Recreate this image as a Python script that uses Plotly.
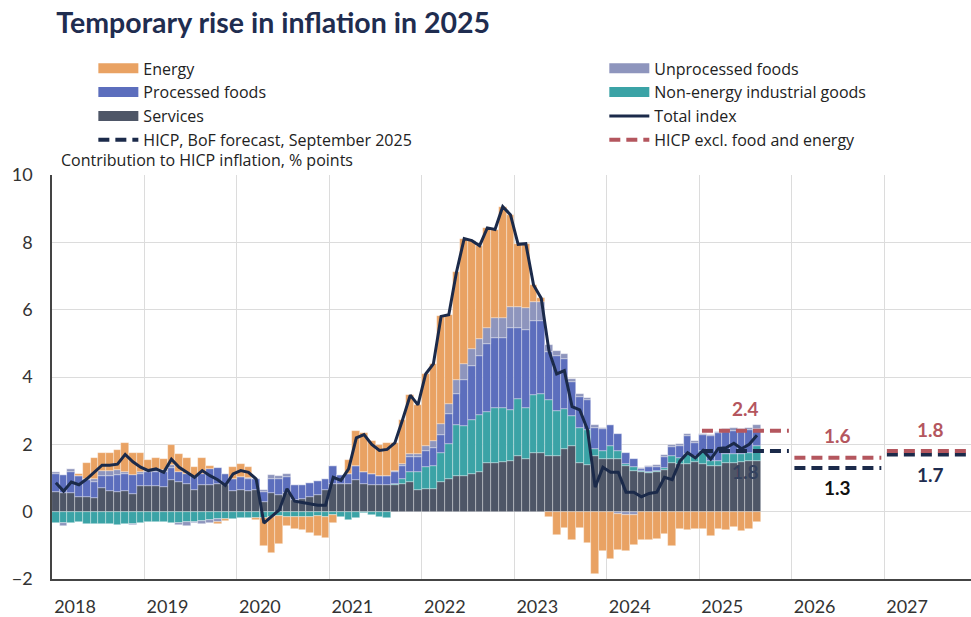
"""HICP inflation contributions with BoF forecast (Sept 2025)."""

import pandas as pd
import plotly.graph_objects as go

FONT = "Lato, 'Open Sans', sans-serif"
FONT_TXT = "'Open Sans', Lato, sans-serif"
C_ENERGY = "#E9A263"
C_UNPROC = "#8E95BD"
C_PROC = "#5C6EBD"
C_NEIG = "#3BA3A6"
C_SERV = "#4E5667"
C_TOTAL = "#1B2A4A"
C_CORE = "#B4565E"
C_GRID = "#DCDCDC"

months = pd.period_range("2018-01", "2025-08", freq="M")

services = [
    0.58, 0.55, 0.54, 0.44, 0.44, 0.40, 0.70, 0.60, 0.58, 0.60, 0.53, 0.75,
    0.75, 0.75, 0.73, 0.93, 0.88, 0.83, 0.63, 0.78, 0.80, 0.83, 0.78, 0.60,
    0.63, 0.60, 0.63, 0.29, 0.54, 0.49, 0.54, 0.34, 0.39, 0.44, 0.50, 0.63,
    0.83, 0.83, 0.83, 0.93, 0.83, 0.78, 0.78, 0.78, 0.78, 0.83, 0.88, 0.63,
    0.68, 0.68, 0.88, 0.97, 1.07, 1.07, 1.12, 1.17, 1.46, 1.46, 1.48, 1.51,
    1.66, 1.56, 1.75, 1.75, 1.66, 1.66, 1.85, 1.95, 1.46, 1.38, 1.64, 1.56,
    1.56, 1.56, 1.36, 1.22, 1.17, 1.15, 1.17, 1.25, 1.46, 1.41, 1.41, 1.48,
    1.41, 1.36, 1.36, 1.46, 1.46, 1.48, 1.50, 1.50,
]
non_energy = [
    -0.33, -0.35, -0.33, -0.32, -0.36, -0.36, -0.38, -0.38, -0.40, -0.37, -0.36, -0.35,
    -0.30, -0.30, -0.32, -0.33, -0.33, -0.32, -0.30, -0.28, -0.25, -0.22, -0.22, -0.22,
    -0.20, -0.20, -0.18, -0.20, -0.15, -0.12, -0.15, -0.15, -0.17, -0.15, -0.12, -0.15,
    -0.10, -0.15, -0.25, -0.20, -0.05, -0.10, -0.15, -0.18, 0.05, 0.14, 0.29, 0.54,
    0.64, 0.68, 0.87, 1.03, 1.51, 1.48, 1.61, 1.71, 1.51, 1.61, 1.59, 1.51,
    1.70, 1.51, 1.71, 1.76, 1.65, 1.34, 1.19, 0.90, 1.03, 1.06, 0.21, 0.24,
    0.39, 0.24, 0.05, 0.10, 0.03, 0.03, 0.03, 0.05, 0.20, 0.19, 0.29, 0.18,
    0.39, 0.15, 0.15, 0.24, 0.26, 0.22, 0.25, 0.45,
]
processed = [
    0.54, 0.54, 0.63, 0.63, 0.49, 0.48, 0.37, 0.47, 0.51, 0.52, 0.56, 0.37,
    0.42, 0.42, 0.44, 0.36, 0.29, 0.29, 0.44, 0.35, 0.47, 0.47, 0.34, 0.37,
    0.39, 0.37, 0.34, 0.29, 0.43, 0.48, 0.48, 0.44, 0.41, 0.41, 0.40, 0.35,
    0.53, 0.27, 0.29, 0.43, 0.34, 0.34, 0.29, 0.29, 0.34, 0.39, 0.44, 0.44,
    0.48, 0.54, 0.54, 0.90, 0.92, 1.35, 1.61, 1.75, 2.00, 2.10, 2.10, 2.44,
    2.10, 2.34, 2.19, 2.14, 1.44, 1.63, 1.49, 1.00, 0.92, 0.87, 0.65, 0.65,
    0.63, 0.50, 0.34, 0.24, 0.08, 0.16, 0.14, 0.32, 0.26, 0.35, 0.55, 0.39,
    0.47, 0.73, 0.82, 0.67, 0.68, 0.67, 0.67, 0.52,
]
unprocessed = [
    0.05, -0.08, 0.10, 0.00, 0.05, 0.10, 0.15, 0.15, 0.15, 0.05, -0.05, 0.05,
    0.05, 0.10, 0.08, 0.10, -0.08, -0.10, -0.05, -0.08, -0.10, -0.10, 0.00, 0.00,
    0.00, 0.02, 0.00, 0.05, 0.12, 0.10, 0.10, 0.00, 0.00, 0.00, 0.00, 0.00,
    0.00, 0.00, 0.00, 0.00, 0.00, 0.00, 0.00, 0.00, 0.03, 0.05, 0.10, 0.10,
    0.15, 0.20, 0.31, 0.30, 0.40, 0.49, 0.48, 0.49, 0.49, 0.58, 0.58, 0.63,
    0.63, 0.63, 0.59, 0.59, 0.20, 0.14, 0.15, 0.10, 0.10, 0.06, 0.08, 0.04,
    0.00, -0.08, -0.10, -0.10, 0.01, 0.03, 0.04, 0.05, 0.05, 0.05, 0.05, 0.05,
    0.05, 0.05, 0.05, 0.08, 0.08, 0.08, 0.08, 0.10,
]
energy = [
    0.02, 0.00, 0.00, 0.05, 0.46, 0.60, 0.53, 0.51, 0.59, 0.88, 0.64, 0.56,
    0.30, 0.33, 0.30, 0.60, 0.55, 0.47, 0.25, 0.45, 0.10, -0.05, -0.05, 0.35,
    0.39, 0.35, -0.08, -0.82, -1.07, -0.85, -0.29, -0.35, -0.38, -0.47, -0.60, -0.63,
    -0.24, 0.00, 0.40, 1.05, 1.17, 0.98, 0.90, 0.96, 0.84, 1.32, 1.75, 1.46,
    2.14, 2.29, 3.20, 2.65, 3.22, 3.72, 3.23, 2.78, 2.97, 2.63, 3.31, 2.73,
    1.85, 1.92, 0.49, 0.10, -0.17, -0.68, -0.49, -0.83, -0.49, -0.93, -1.85, -1.17,
    -1.41, -1.05, -1.07, -0.88, -0.85, -0.83, -0.80, -0.65, -1.02, -0.50, -0.55, -0.50,
    -0.50, -0.73, -0.50, -0.55, -0.45, -0.58, -0.50, -0.30,
]
total = [
    0.86, 0.61, 0.88, 0.80, 0.97, 1.17, 1.38, 1.38, 1.41, 1.70, 1.48, 1.32,
    1.22, 1.27, 1.17, 1.56, 1.32, 1.17, 1.02, 1.22, 1.07, 0.95, 0.78, 1.12,
    1.22, 1.17, 0.97, -0.34, -0.15, 0.05, 0.68, 0.31, 0.27, 0.24, 0.19, 0.19,
    1.02, 0.93, 1.27, 2.19, 2.29, 2.00, 1.82, 1.85, 2.04, 2.73, 3.46, 3.17,
    4.09, 4.39, 5.80, 5.85, 7.12, 8.11, 8.05, 7.90, 8.43, 8.38, 9.06, 8.82,
    7.94, 7.96, 6.73, 6.34, 4.78, 4.09, 4.19, 3.12, 3.02, 2.44, 0.73, 1.32,
    1.17, 1.17, 0.58, 0.58, 0.44, 0.54, 0.58, 1.02, 0.95, 1.50, 1.75, 1.60,
    1.82, 1.56, 1.88, 1.90, 2.03, 1.87, 2.00, 2.27,
]

fc_years = [2025, 2026, 2027]
hicp_fc = [1.8, 1.3, 1.7]
core_fc = [2.4, 1.6, 1.8]
hicp_label_colors = ["#34425F", "#111111", "#1F2D50"]

year_ticks = list(range(2018, 2028))

xpos = months.year + (months.month - 0.5) / 12

fig = go.Figure()

# stacking order: first trace sits next to zero; (legend, rank) picks the column/row
bar_series = [
    ("Services", services, C_SERV, "legend", 3),
    ("Non-energy industrial goods", non_energy, C_NEIG, "legend2", 2),
    ("Processed foods", processed, C_PROC, "legend", 2),
    ("Unprocessed foods", unprocessed, C_UNPROC, "legend2", 1),
    ("Energy", energy, C_ENERGY, "legend", 1),
]
for name, vals, color, leg, rank in bar_series:
    fig.add_trace(go.Bar(
        x=xpos, y=vals, width=1 / 12, name=name, showlegend=False,
        marker=dict(color=color, line=dict(color="rgba(255,255,255,0.55)", width=0.6)),
    ))
    # wide swatch for the legend
    fig.add_trace(go.Scatter(
        x=[None], y=[None], mode="lines", name=name, legend=leg, legendrank=rank,
        line=dict(color=color, width=13),
    ))


def _segments(years, vals):
    xs, ys = [], []
    for yr, v in zip(years, vals):
        xs += [yr + 0.03, yr + 0.97, None]
        ys += [v, v, None]
    return xs, ys


hx, hy = _segments(fc_years, hicp_fc)
cx, cy = _segments(fc_years, core_fc)

fig.add_trace(go.Scatter(
    x=list(xpos), y=total, mode="lines", name="Total index",
    legend="legend2", legendrank=3, line=dict(color=C_TOTAL, width=3),
))
fig.add_trace(go.Scatter(
    x=hx, y=hy, mode="lines", name="HICP, BoF forecast, September 2025",
    legend="legend", legendrank=4, line=dict(color=C_TOTAL, width=4, dash="11px,6px"),
))
fig.add_trace(go.Scatter(
    x=cx, y=cy, mode="lines", name="HICP excl. food and energy",
    legend="legend2", legendrank=4, line=dict(color=C_CORE, width=4, dash="11px,6px"),
))

for yr, v, col in zip(fc_years, hicp_fc, hicp_label_colors):
    fig.add_annotation(
        x=yr + 0.5, y=v, text=f"<b>{v:.1f}</b>", showarrow=False, yshift=-20,
        font=dict(family=FONT, size=19, color=col),
    )
for yr, v in zip(fc_years, core_fc):
    fig.add_annotation(
        x=yr + 0.5, y=v, text=f"<b>{v:.1f}</b>", showarrow=False, yshift=22,
        font=dict(family=FONT, size=19, color=C_CORE),
    )

fig.add_annotation(
    xref="paper", yref="paper", x=0.008, y=1.037, xanchor="left", yanchor="middle",
    text="Contribution to HICP inflation, % points", showarrow=False,
    font=dict(family=FONT_TXT, size=16, color="#222222"),
)

legend_common = dict(
    orientation="v", y=1.306, xanchor="left", yanchor="top",
    traceorder="normal", itemwidth=40, bgcolor="rgba(0,0,0,0)",
    font=dict(family=FONT_TXT, size=16, color="#222222"),
)

fig.update_layout(
    width=971, height=617,
    margin=dict(l=52, r=0, t=175, b=33),
    barmode="relative", bargap=0,
    plot_bgcolor="white", paper_bgcolor="white",
    font=dict(family=FONT, size=18, color="#333333"),
    title=dict(
        text="<b>Temporary rise in inflation in 2025</b>",
        x=0.058, xanchor="left", y=0.963, yanchor="middle",
        font=dict(family=FONT, size=28.5, color="#1F2D50"),
    ),
    legend=dict(x=0.045, **legend_common),
    legend2=dict(x=0.601, **legend_common),
    showlegend=True,
)
fig.update_xaxes(
    range=[2018, 2027.94], tickvals=year_ticks, ticktext=[str(y) for y in year_ticks],
    showgrid=True, gridcolor=C_GRID, gridwidth=1, zeroline=False,
    showline=True, linecolor="#444444", linewidth=1.5,
    ticks="", ticklabelshift=23, ticklabelstandoff=11,
    tickfont=dict(size=18, color="#333333"),
)
fig.update_yaxes(
    range=[-2, 10], dtick=2, showgrid=True, gridcolor=C_GRID, gridwidth=1,
    zeroline=False, showline=True, linecolor="#444444", linewidth=1.5,
    ticks="", ticklabelstandoff=14, tickfont=dict(size=18, color="#333333"),
)

fig.write_html(
    "out.html",
    config={"displayModeBar": False},
    post_script="document.body.style.margin = '0';",
)
